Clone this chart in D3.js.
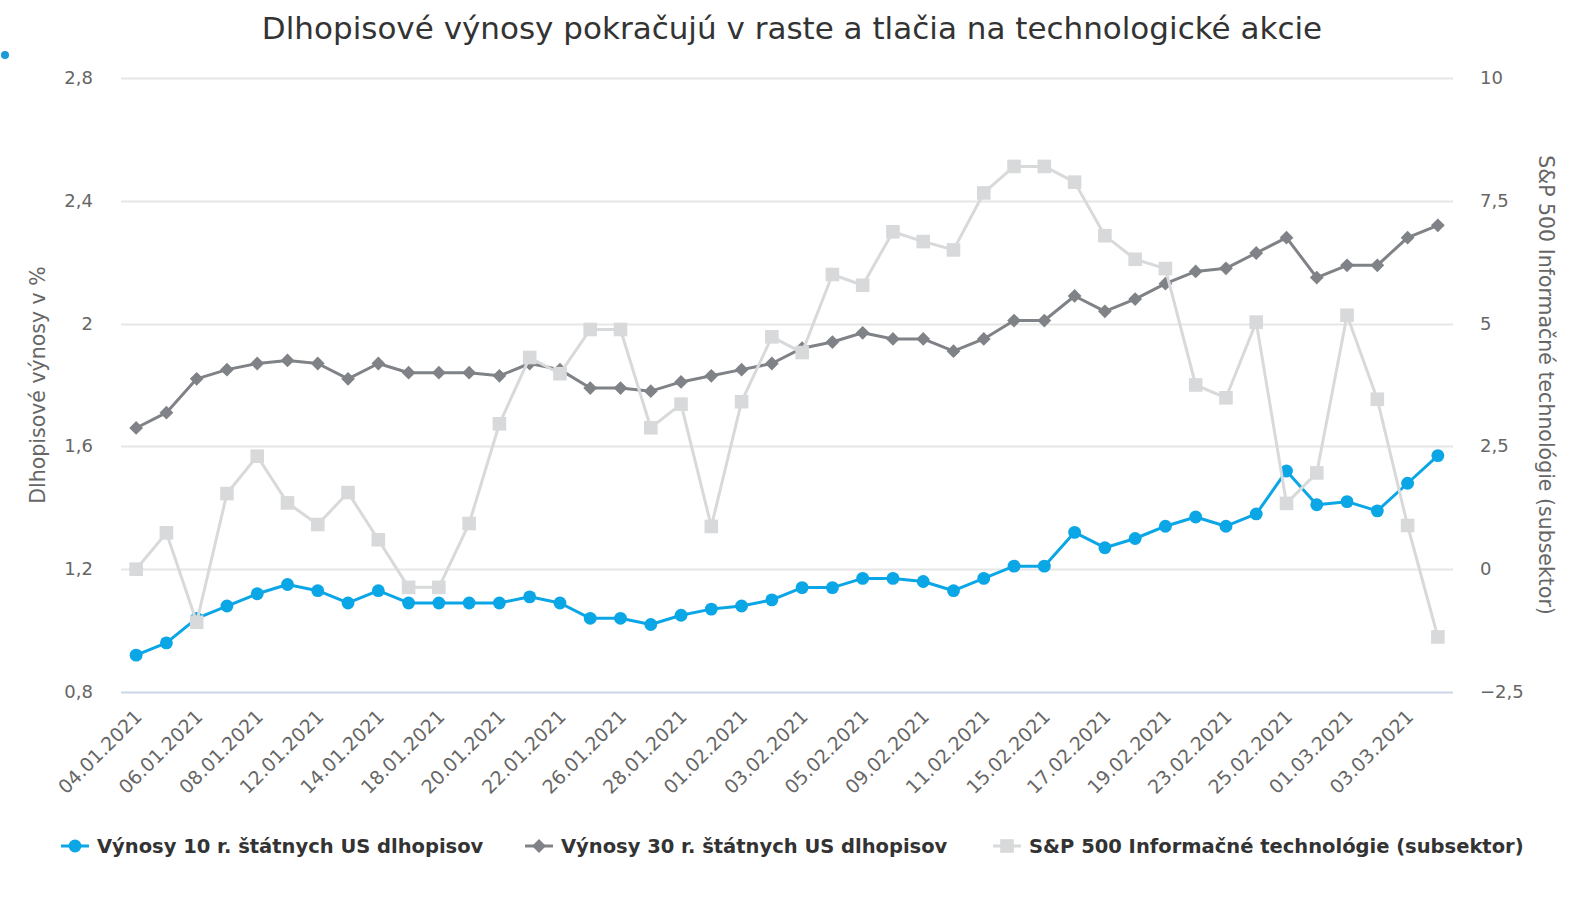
<!DOCTYPE html>
<html>
<head>
<meta charset="utf-8">
<script src="https://cdn.jsdelivr.net/npm/d3@7"></script>
<style>
  html, body { margin: 0; padding: 0; background: #fff; }
  svg { display: block; font-family: "DejaVu Sans", sans-serif; }
</style>
</head>
<body>
<div id="main"></div>
<script>
const dates = ['04.01.2021','05.01.2021','06.01.2021','07.01.2021','08.01.2021','11.01.2021','12.01.2021','13.01.2021','14.01.2021','15.01.2021',
  '18.01.2021','19.01.2021','20.01.2021','21.01.2021','22.01.2021','25.01.2021','26.01.2021','27.01.2021','28.01.2021','29.01.2021',
  '01.02.2021','02.02.2021','03.02.2021','04.02.2021','05.02.2021','08.02.2021','09.02.2021','10.02.2021','11.02.2021','12.02.2021',
  '15.02.2021','16.02.2021','17.02.2021','18.02.2021','19.02.2021','22.02.2021','23.02.2021','24.02.2021','25.02.2021','26.02.2021',
  '01.03.2021','02.03.2021','03.03.2021','04.03.2021'];

const yield10 = [0.92,0.96,1.04,1.08,1.12,1.15,1.13,1.09,1.13,1.09,
  1.09,1.09,1.09,1.11,1.09,1.04,1.04,1.02,1.05,1.07,
  1.08,1.10,1.14,1.14,1.17,1.17,1.16,1.13,1.17,1.21,
  1.21,1.32,1.27,1.30,1.34,1.37,1.34,1.38,1.52,1.41,
  1.42,1.39,1.48,1.57];

const yield30 = [1.66,1.71,1.82,1.85,1.87,1.88,1.87,1.82,1.87,1.84,
  1.84,1.84,1.83,1.87,1.85,1.79,1.79,1.78,1.81,1.83,
  1.85,1.87,1.92,1.94,1.97,1.95,1.95,1.91,1.95,2.01,
  2.01,2.09,2.04,2.08,2.13,2.17,2.18,2.23,2.28,2.15,
  2.19,2.19,2.28,2.32];

const techSP = [0.0,0.74,-1.08,1.54,2.30,1.35,0.91,1.56,0.60,-0.37,
  -0.37,0.93,2.96,4.31,3.98,4.88,4.88,2.88,3.36,0.87,
  3.41,4.73,4.41,6.00,5.78,6.87,6.67,6.50,7.66,8.20,
  8.20,7.88,6.79,6.31,6.12,3.75,3.49,5.03,1.34,1.96,
  5.17,3.46,0.89,-1.38];

const leftTicks = [0.8, 1.2, 1.6, 2.0, 2.4, 2.8];
const rightTicks = [-2.5, 0, 2.5, 5, 7.5, 10];

const seriesNames = ['Výnosy 10 r. štátnych US dlhopisov', 'Výnosy 30 r. štátnych US dlhopisov', 'S&P 500 Informačné technológie (subsektor)'];
const colors = ['#0aa6e6', '#7f8286', '#d8d9db'];

const W = 1584, H = 900;
const plot = {left: 121, right: 1453, top: 78, bottom: 692};

const svg = d3.select('#main').append('svg').attr('width', W).attr('height', H);

const x = d3.scalePoint().domain(dates).range([plot.left, plot.right]).padding(0.5);
const yL = d3.scaleLinear().domain([0.8, 2.8]).range([plot.bottom, plot.top]);
const yR = d3.scaleLinear().domain([-2.5, 10]).range([plot.bottom, plot.top]);

const fmt = v => {
  let s = d3.format('~g')(v).replace('.', ',');
  return s.replace('-', '\u2212');
};

// title
svg.append('text')
  .attr('x', W / 2).attr('y', 39)
  .attr('text-anchor', 'middle')
  .attr('font-size', 31).attr('fill', '#333')
  .text('Dlhopisové výnosy pokračujú v raste a tlačia na technologické akcie');

svg.append('circle').attr('cx', 5).attr('cy', 55).attr('r', 4).attr('fill', '#1a9ad6');

// grid
svg.append('g').selectAll('line').data(leftTicks.slice(1)).join('line')
  .attr('x1', plot.left).attr('x2', plot.right)
  .attr('y1', d => Math.round(yL(d)) + 0.5).attr('y2', d => Math.round(yL(d)) + 0.5)
  .attr('stroke', '#e6e6e6').attr('stroke-width', 2);

svg.append('line')
  .attr('x1', plot.left).attr('x2', plot.right)
  .attr('y1', plot.bottom + 0.5).attr('y2', plot.bottom + 0.5)
  .attr('stroke', '#ccd6eb').attr('stroke-width', 2);

// y labels
svg.append('g').selectAll('text').data(leftTicks).join('text')
  .attr('x', 93).attr('y', d => yL(d) + 6)
  .attr('text-anchor', 'end').attr('font-size', 18).attr('fill', '#666')
  .text(fmt);

svg.append('g').selectAll('text').data(rightTicks).join('text')
  .attr('x', 1480).attr('y', d => yR(d) + 6)
  .attr('text-anchor', 'start').attr('font-size', 18).attr('fill', '#666')
  .text(fmt);

svg.append('text')
  .attr('transform', `translate(45,${(plot.top + plot.bottom) / 2}) rotate(-90)`)
  .attr('text-anchor', 'middle').attr('font-size', 20.5).attr('fill', '#666')
  .text('Dlhopisové výnosy v %');

svg.append('text')
  .attr('transform', `translate(1539,${(plot.top + plot.bottom) / 2}) rotate(90)`)
  .attr('text-anchor', 'middle').attr('font-size', 20.5).attr('fill', '#666')
  .text('S&P 500 Informačné technológie (subsektor)');

// x labels
const shown = dates.filter((d, i) => i % 2 === 0);
svg.append('g').selectAll('text').data(shown).join('text')
  .attr('transform', d => `translate(${x(d) + 7},${plot.bottom + 26}) rotate(-45)`)
  .attr('text-anchor', 'end').attr('font-size', 19).attr('fill', '#666')
  .text(d => d);

// markers: circle, diamond (rotated square), square
const markers = [
  {type: d3.symbolCircle, size: 130, rot: 0},
  {type: d3.symbolSquare, size: 95, rot: 45},
  {type: d3.symbolSquare, size: 185, rot: 0}
];

function drawSeries(vals, scale, color, m) {
  const g = svg.append('g');
  const line = d3.line().x((d, i) => x(dates[i])).y(d => scale(d));
  g.append('path').datum(vals).attr('d', line)
    .attr('fill', 'none').attr('stroke', color).attr('stroke-width', 3)
    .attr('stroke-linejoin', 'round');
  g.selectAll('path.m').data(vals).join('path').attr('class', 'm')
    .attr('transform', (d, i) => `translate(${x(dates[i])},${scale(d)}) rotate(${m.rot})`)
    .attr('d', d3.symbol().type(m.type).size(m.size))
    .attr('fill', color);
}

drawSeries(yield10, yL, colors[0], markers[0]);
drawSeries(yield30, yL, colors[1], markers[1]);
drawSeries(techSP, yR, colors[2], markers[2]);

// legend
const legendX = [61, 525, 993];
const lg = svg.append('g');
seriesNames.forEach((name, i) => {
  const g = lg.append('g').attr('transform', `translate(${legendX[i]},846)`);
  g.append('line').attr('x1', 0).attr('x2', 28).attr('stroke', colors[i]).attr('stroke-width', 3);
  g.append('path').attr('transform', `translate(14,0) rotate(${markers[i].rot})`)
    .attr('d', d3.symbol().type(markers[i].type).size(markers[i].size)).attr('fill', colors[i]);
  g.append('text').attr('x', 36).attr('y', 7)
    .attr('font-size', 19.5).attr('font-weight', 'bold').attr('fill', '#333')
    .text(name);
});
</script>
</body>
</html>
